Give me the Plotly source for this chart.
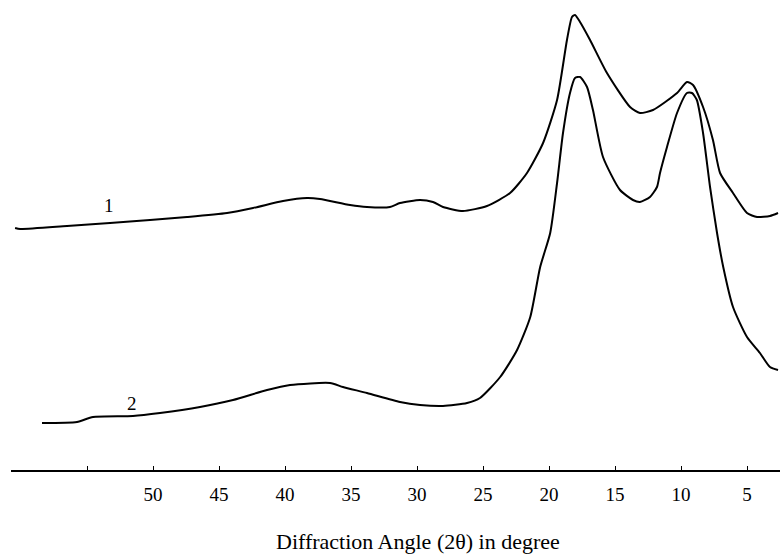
import plotly.graph_objects as go

# Diffraction angle (2θ, degrees) and intensity (arbitrary units)
theta_1 = [60.45, 60.07, 56.52, 53.26, 50.23, 47.42, 44.39, 42.42, 40.15, 38.33, 37.35,
           35.07, 33.79, 32.05, 31.29, 29.77, 28.79, 28.03, 26.52, 24.70, 22.95, 21.67,
           20.45, 19.39, 18.64, 18.26, 18.03, 17.65, 16.89, 15.61, 13.86, 13.11, 12.12,
           10.30, 9.55, 9.09, 8.33, 7.58, 7.04, 6.06, 5.00, 4.24, 3.26, 2.65]
intensity_1 = [242, 241, 244, 247, 250, 253, 257, 262, 269, 272, 271,
               265, 263, 263, 267, 270, 268, 263, 259, 264, 277, 297,
               327, 370, 430, 453, 455, 448, 430, 397, 363, 357, 360,
               377, 388, 385, 363, 330, 297, 277, 257, 253, 254, 257]

theta_2 = [58.41, 55.76, 54.55, 51.52, 49.47, 46.44, 43.94, 41.36, 39.62, 36.59, 35.61,
           33.79, 31.29, 29.77, 28.03, 26.21, 25.23, 23.70, 22.42, 21.42, 20.67, 19.91,
           19.39, 18.94, 18.41, 18.03, 17.65, 17.12, 16.67, 15.91, 14.62, 13.64, 13.11,
           12.35, 11.82, 11.59, 11.06, 10.30, 9.55, 9.17, 8.80, 8.33, 7.80, 7.27, 6.80,
           6.06, 5.00, 4.02, 3.26, 2.65]
intensity_2 = [47, 48, 53, 54, 57, 63, 70, 80, 85, 87, 83,
               77, 68, 65, 64, 67, 72, 93, 120, 153, 203, 237,
               287, 337, 377, 392, 393, 383, 360, 313, 280, 270, 268,
               273, 283, 297, 323, 357, 377, 377, 370, 337, 283, 237, 203,
               163, 133, 117, 103, 100]

tick_values = [55, 50, 45, 40, 35, 30, 25, 20, 15, 10, 5]
tick_labels = ["", "50", "45", "40", "35", "30", "25", "20", "15", "10", "5"]

curve_labels = ["1", "2"]
label_theta = [53.3, 51.6]
label_intensity = [265, 67]

serif = "Liberation Serif, Times New Roman, serif"

fig = go.Figure()
for th, inten in [(theta_1, intensity_1), (theta_2, intensity_2)]:
    fig.add_trace(go.Scatter(
        x=th, y=inten, mode="lines",
        line=dict(color="black", width=2, shape="spline", smoothing=0.6),
        showlegend=False, hoverinfo="skip"))

for txt, tx, ty in zip(curve_labels, label_theta, label_intensity):
    fig.add_annotation(x=tx, y=ty, text=txt, showarrow=False,
                       font=dict(family=serif, size=19, color="black"))

fig.add_annotation(xref="paper", yref="paper", x=(418 - 11) / 769, y=(470 - 541) / 470,
                   text="Diffraction Angle (2θ) in degree", showarrow=False,
                   xanchor="center", yanchor="middle",
                   font=dict(family=serif, size=22, color="black"))

fig.update_layout(
    width=780, height=559,
    margin=dict(l=11, r=0, t=0, b=89),
    paper_bgcolor="white", plot_bgcolor="white",
    xaxis=dict(range=[60.76, 2.50], showgrid=False, zeroline=False,
               showline=True, linecolor="black", linewidth=2,
               tickmode="array", tickvals=tick_values, ticktext=tick_labels,
               ticks="inside", ticklen=4, tickwidth=1, tickcolor="black",
               ticklabelstandoff=6,
               tickfont=dict(family=serif, size=19, color="black")),
    yaxis=dict(range=[0, 470], visible=False, showgrid=False, zeroline=False),
)

fig.write_html("out.html")
